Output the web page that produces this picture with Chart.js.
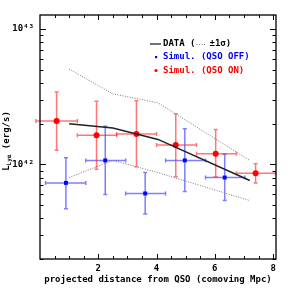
<!DOCTYPE html>
<html>
<head>
<meta charset="utf-8">
<script src="https://cdn.jsdelivr.net/npm/chart.js@4.4.1/dist/chart.umd.min.js"></script>
<style>
    html, body { margin: 0; padding: 0; background: #fff; }
    #wrap { width: 291px; height: 291px; }
</style>
</head>
<body>
<div id="wrap"><canvas id="myChart-lya"></canvas></div>
<script>
// observed profile (DATA) and its +-1 sigma envelope
const dataX = [1.0, 2.5, 4.05, 7.2];
const dataY = [2.0e42, 1.86e42, 1.53e42, 7.6e41];
const dataUpper = [5.07e42, 3.32e42, 2.85e42, 1.07e42];
const dataLower = [8.0e41, 1.07e42, 8.7e41, 5.4e41];

// simulation, QSO OFF (blue)
const offX = [0.89, 2.24, 3.61, 4.97, 6.34];
const offXLo = [0.19, 1.57, 2.94, 4.31, 5.68];
const offXHi = [1.57, 2.94, 4.31, 5.68, 7.03];
const offY = [7.3e41, 1.07e42, 6.1e41, 1.07e42, 8.0e41];
const offYLo = [4.7e41, 6.0e41, 4.3e41, 6.3e41, 5.4e41];
const offYHi = [1.12e42, 1.91e42, 8.7e41, 1.83e42, 1.19e42];

// simulation, QSO ON (red)
const onX = [0.57, 1.94, 3.31, 4.66, 6.03, 7.40];
const onXLo = [-0.14, 1.28, 2.63, 4.00, 5.37, 6.74];
const onXHi = [1.28, 2.63, 4.00, 5.37, 6.74, 8.08];
const onY = [2.09e42, 1.64e42, 1.68e42, 1.39e42, 1.20e42, 8.6e41];
const onYLo = [1.27e42, 9.2e41, 9.6e41, 8.1e41, 8.1e41, 7.3e41];
const onYHi = [3.43e42, 2.93e42, 2.95e42, 2.37e42, 1.81e42, 1.01e42];

const xLabels = [2, 4, 6, 8];
const xMinor = [0.5, 1, 1.5, 2, 2.5, 3, 3.5, 4, 4.5, 5, 5.5, 6, 6.5, 7, 7.5, 8];
const yLabels = [1e42, 1e43];
const yMinor = [2e41, 3e41, 4e41, 5e41, 6e41, 7e41, 8e41, 9e41, 1e42,
    2e42, 3e42, 4e42, 5e42, 6e42, 7e42, 8e42, 9e42, 1e43];

const FONT = 'DejaVu Sans Mono';
const BLUE = '#0000ff';
const RED = '#ff0000';

const toPoints = (xs, ys) => xs.map((x, i) => ({ x: x, y: ys[i] }));

const errorBars = {
    id: 'errorBars',
    beforeDatasetsDraw(chart) {
        const { ctx, scales: { x, y } } = chart;
        const draw = (xs, xlo, xhi, ys, ylo, yhi, color) => {
            ctx.save();
            ctx.strokeStyle = color;
            ctx.lineWidth = 1.5;
            const cap = 2;
            xs.forEach((xv, i) => {
                const px = x.getPixelForValue(xv);
                const py = y.getPixelForValue(ys[i]);
                const x0 = x.getPixelForValue(xlo[i]);
                const x1 = x.getPixelForValue(xhi[i]);
                const y0 = y.getPixelForValue(ylo[i]);
                const y1 = y.getPixelForValue(yhi[i]);
                ctx.beginPath();
                ctx.moveTo(x0, py); ctx.lineTo(x1, py);
                ctx.moveTo(x0, py - cap); ctx.lineTo(x0, py + cap);
                ctx.moveTo(x1, py - cap); ctx.lineTo(x1, py + cap);
                ctx.moveTo(px, y0); ctx.lineTo(px, y1);
                ctx.moveTo(px - cap, y0); ctx.lineTo(px + cap, y0);
                ctx.moveTo(px - cap, y1); ctx.lineTo(px + cap, y1);
                ctx.stroke();
            });
            ctx.restore();
        };
        draw(offX, offXLo, offXHi, offY, offYLo, offYHi, 'rgba(40,40,255,0.6)');
        draw(onX, onXLo, onXHi, onY, onYLo, onYHi, 'rgba(255,30,30,0.6)');
    }
};

// frame, inward ticks, axis titles and legend
const decorations = {
    id: 'decorations',
    afterDraw(chart) {
        const { ctx, chartArea: a, scales: { x, y } } = chart;
        ctx.save();
        ctx.setLineDash([]);
        ctx.strokeStyle = '#000';
        ctx.lineWidth = 1.3;
        ctx.strokeRect(a.left, a.top, a.right - a.left, a.bottom - a.top);

        ctx.lineWidth = 1;
        ctx.beginPath();
        xMinor.forEach(v => {
            const px = Math.round(x.getPixelForValue(v)) + 0.5;
            const len = xLabels.includes(v) ? 5 : 3;
            ctx.moveTo(px, a.bottom); ctx.lineTo(px, a.bottom - len);
            ctx.moveTo(px, a.top); ctx.lineTo(px, a.top + len);
        });
        yMinor.forEach(v => {
            const py = Math.round(y.getPixelForValue(v)) + 0.5;
            const len = yLabels.includes(v) ? 6 : 3.5;
            ctx.moveTo(a.left, py); ctx.lineTo(a.left + len, py);
            ctx.moveTo(a.right, py); ctx.lineTo(a.right - len, py);
        });
        ctx.stroke();

        ctx.fillStyle = '#000';
        ctx.textBaseline = 'middle';
        ctx.textAlign = 'center';
        ctx.font = `bold 9px "${FONT}"`;
        ctx.fillText('projected distance from QSO (comoving Mpc)', (a.left + a.right) / 2, 280);

        // y title: L_Lya (erg/s)
        ctx.save();
        ctx.translate(7, (a.top + a.bottom) / 2 + 4);
        ctx.rotate(-Math.PI / 2);
        ctx.textAlign = 'left';
        const parts = [['L', 9, 0], ['Lyα', 6, 2.5], [' (erg/s)', 9, 0]];
        let w = 0;
        parts.forEach(p => { ctx.font = `bold ${p[1]}px "${FONT}"`; w += ctx.measureText(p[0]).width; });
        let cx = -w / 2;
        parts.forEach(p => {
            ctx.font = `bold ${p[1]}px "${FONT}"`;
            ctx.fillText(p[0], cx, p[2]);
            cx += ctx.measureText(p[0]).width;
        });
        ctx.restore();

        // legend
        ctx.textAlign = 'left';
        ctx.font = `bold 9px "${FONT}"`;
        ctx.strokeStyle = '#444';
        ctx.lineWidth = 1.5;
        ctx.beginPath(); ctx.moveTo(150, 44); ctx.lineTo(161, 44); ctx.stroke();
        ctx.fillStyle = '#000';
        ctx.fillText('DATA (', 163, 44);
        let lx = 163 + ctx.measureText('DATA (').width + 1;
        ctx.strokeStyle = '#777';
        ctx.lineWidth = 1;
        ctx.setLineDash([1, 1.5]);
        ctx.beginPath(); ctx.moveTo(lx, 44.5); ctx.lineTo(lx + 10, 44.5); ctx.stroke();
        ctx.setLineDash([]);
        ctx.fillText('±1σ)', lx + 13, 44);

        ctx.fillStyle = BLUE;
        ctx.fillRect(155, 56, 2.2, 2.2);
        ctx.fillText('Simul. (QSO OFF)', 163, 57);
        ctx.fillStyle = RED;
        ctx.beginPath(); ctx.arc(156, 70.5, 1.6, 0, Math.PI * 2); ctx.fill();
        ctx.fillText('Simul. (QSO ON)', 163, 70.5);
        ctx.restore();
    }
};

const config = {
    type: 'scatter',
    data: {
        datasets: [
            {
                label: 'DATA',
                data: toPoints(dataX, dataY),
                showLine: true,
                borderColor: '#222',
                borderWidth: 1.5,
                pointRadius: 0
            },
            {
                label: '+1 sigma',
                data: toPoints(dataX, dataUpper),
                showLine: true,
                borderColor: '#777',
                borderWidth: 1,
                borderDash: [1, 1.5],
                pointRadius: 0
            },
            {
                label: '-1 sigma',
                data: toPoints(dataX, dataLower),
                showLine: true,
                borderColor: '#777',
                borderWidth: 1,
                borderDash: [1, 1.5],
                pointRadius: 0
            },
            {
                label: 'Simul. (QSO OFF)',
                data: toPoints(offX, offY),
                pointStyle: 'rect',
                pointRadius: 2.8,
                backgroundColor: BLUE,
                borderColor: BLUE,
                borderWidth: 0
            },
            {
                label: 'Simul. (QSO ON)',
                data: toPoints(onX, onY),
                pointStyle: 'circle',
                pointRadius: 3,
                backgroundColor: RED,
                borderColor: RED,
                borderWidth: 0
            }
        ]
    },
    options: {
        responsive: true,
        maintainAspectRatio: false,
        animation: false,
        clip: false,
        layout: { padding: { top: 15, right: 15, left: 0, bottom: 0 } },
        plugins: {
            legend: { display: false },
            tooltip: { enabled: false }
        },
        scales: {
            x: {
                type: 'linear',
                min: 0,
                max: 8.1,
                afterFit: s => { s.height = 32; },
                grid: { display: false, drawTicks: false },
                border: { display: false },
                afterBuildTicks: s => { s.ticks = xLabels.map(v => ({ value: v })); },
                ticks: {
                    autoSkip: false,
                    maxRotation: 0,
                    padding: 4,
                    color: '#000',
                    font: { family: FONT, size: 9, weight: 'bold' },
                    callback: v => String(v)
                }
            },
            y: {
                type: 'logarithmic',
                min: 2e41,
                max: 1.27e43,
                afterFit: s => { s.width = 40; },
                grid: { display: false, drawTicks: false },
                border: { display: false },
                afterBuildTicks: s => { s.ticks = yLabels.map(v => ({ value: v })); },
                ticks: {
                    autoSkip: false,
                    padding: 6,
                    color: '#000',
                    font: { family: FONT, size: 9, weight: 'bold' },
                    callback: v => '10' + (Math.round(Math.log10(v)) === 42 ? '⁴²' : '⁴³')
                }
            }
        }
    },
    plugins: [errorBars, decorations]
};

document.addEventListener('DOMContentLoaded', () => {
    const ctx = document.getElementById('myChart-lya').getContext('2d');
    new Chart(ctx, config);
});
</script>
</body>
</html>
